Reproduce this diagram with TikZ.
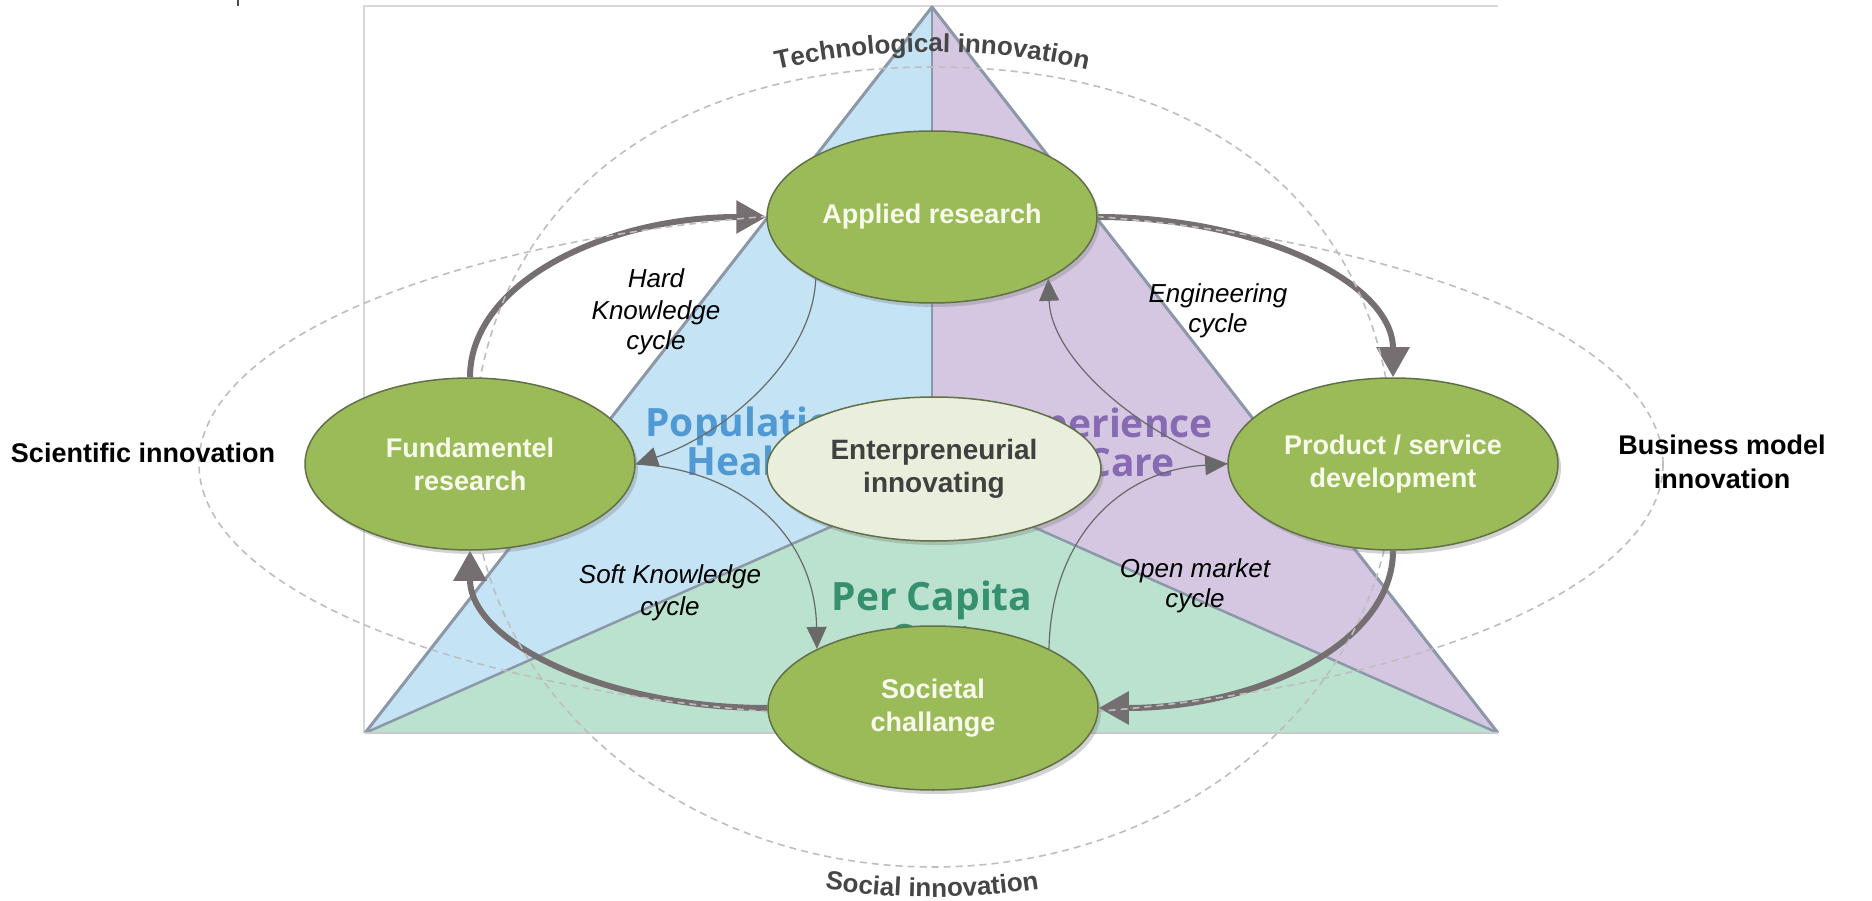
\documentclass[tikz,border=0pt]{standalone}
\usepackage{fontspec}
\setmainfont{Liberation Sans}
\newfontfamily\bgfont{Open Sans}
\usetikzlibrary{shapes.geometric,arrows.meta,shadows,decorations.text}
\definecolor{tblue}{RGB}{196,228,246}
\definecolor{tpurple}{RGB}{213,199,226}
\definecolor{tgreen}{RGB}{186,226,207}
\definecolor{tedge}{RGB}{140,152,168}
\definecolor{gfill}{RGB}{155,187,89}
\definecolor{gdraw}{RGB}{98,112,72}
\definecolor{efill}{RGB}{234,238,220}
\definecolor{arrcol}{RGB}{118,111,114}
\definecolor{thincol}{RGB}{105,105,105}
\definecolor{dashcol}{RGB}{190,190,190}
\definecolor{innov}{RGB}{70,70,70}
\definecolor{ntext}{RGB}{248,250,236}
\definecolor{etext}{RGB}{64,64,64}
\definecolor{popblue}{RGB}{60,140,205}
\definecolor{exppurple}{RGB}{122,92,170}
\definecolor{capgreen}{RGB}{30,130,95}
\definecolor{framecol}{RGB}{215,215,215}
\pgfdeclarelayer{tri}
\pgfdeclarelayer{arr}
\pgfdeclarelayer{dsh}
\pgfsetlayers{tri,arr,dsh,main}
\tikzset{
  gnode/.style={ellipse, draw=gdraw, line width=1.5pt, fill=gfill,
    minimum width=330pt, minimum height=172pt, inner sep=0pt, align=center,
    text=ntext, font={\fontsize{27}{33}\selectfont\bfseries},
    drop shadow={shadow xshift=3pt, shadow yshift=-4pt, opacity=0.35}},
  enode/.style={gnode, fill=efill, text=etext, minimum width=334pt, minimum height=144pt,
    font={\fontsize{28}{33}\selectfont\bfseries}},
  thickarr/.style={draw=arrcol, line width=6pt, -{Triangle[length=30pt,width=32pt]}},
  thinarr/.style={draw=thincol, line width=1.2pt, -{Triangle[length=22pt,width=20pt]}},
  dashline/.style={draw=dashcol, line width=1.6pt, dash pattern=on 7pt off 5pt},
  lab/.style={font={\fontsize{26}{32}\selectfont\itshape}, text=black, inner sep=0pt, anchor=base},
  side/.style={font={\fontsize{27}{33}\selectfont\bfseries}, text=black, inner sep=0pt, anchor=base},
  bgt/.style={font={\bgfont\bfseries\fontsize{39}{39}\selectfont}, inner sep=0pt, anchor=base, opacity=0.85},
}
\begin{document}
\begin{tikzpicture}[x=1pt,y=1pt]
\useasboundingbox (0,0) rectangle (1872,-901);

% ---- background triangle ----
\begin{pgfonlayer}{tri}
\coordinate (A) at (932,-7);
\coordinate (BL) at (365,-733);
\coordinate (BR) at (1498,-733);
\coordinate (C) at (932,-482);
\draw[framecol, line width=2pt] (364,-733) -- (364,-6) -- (1498,-6);
\draw[black!70, line width=1.5pt] (238,0) -- (238,-6);
\fill[tblue] (A) -- (C) -- (BL) -- cycle;
\fill[tpurple] (A) -- (BR) -- (C) -- cycle;
\fill[tgreen] (BL) -- (C) -- (BR) -- cycle;
\draw[tedge, line width=2.5pt] (A) -- (C);
\draw[tedge, line width=2.5pt] (BL) -- (C) -- (BR);
\draw[tedge, line width=3pt, line join=round] (BL) -- (A) -- (BR);
\draw[framecol!80!tedge, line width=2pt] (BL) -- (BR);
\node[bgt, text=popblue] (pop1) at (752,-436) {Population};
\node[bgt, text=popblue] (pop2) at (752,-475) {Health};
\node[bgt, text=exppurple] (exp1) at (1106,-437) {Experience};
\node[bgt, text=exppurple] (exp2) at (1106,-476) {of Care};
\node[bgt, text=capgreen] (cap1) at (932,-610) {Per Capita};
\node[bgt, text=capgreen] (cap2) at (932,-652) {Cost};
\end{pgfonlayer}

% ---- nodes ----
\node[gnode] (appl) at (932,-217) {Applied research};
\node[gnode] (fund) at (470,-464) {Fundamentel\\research};
\node[gnode] (prod) at (1393,-464) {Product / service\\development};
\node[gnode, minimum height=164pt] (soc) at (933,-708) {Societal\\challange};
\node[enode] (ent) at (934,-469) {Enterpreneurial\\innovating};

% ---- connectors ----
\begin{pgfonlayer}{arr}
\draw[thickarr] (fund.north) .. controls +(0,95) and +(-160,0) .. (appl.west);
\draw[thickarr] (appl.east) .. controls +(160,0) and +(0,95) .. (prod.north);
\draw[thickarr] (prod.south) .. controls +(0,-92) and +(160,0) .. (soc.east);
\draw[thickarr] (soc.west) .. controls +(-160,0) and +(0,-92) .. (fund.south);
\draw[thinarr] (appl.208) .. controls +(-3,-80) and +(90,30) .. (fund.east);
\draw[thinarr] (fund.east) .. controls +(110,-6) and +(-2,110) .. (soc.153);
\draw[thinarr] (soc.27) .. controls +(2,110) and +(-108,-6) .. (prod.west);
\draw[thinarr] (prod.west) .. controls +(-88,30) and +(3,-80) .. (appl.332);
\end{pgfonlayer}

% ---- dashed innovation areas ----
\begin{pgfonlayer}{dsh}
\draw[dashline] (472,-467) .. controls (472,-219) and (647,-67) .. (933,-67)
  .. controls (1219,-67) and (1394,-219) .. (1394,-467)
  .. controls (1394,-688) and (1188,-867) .. (933,-867)
  .. controls (678,-867) and (472,-688) .. cycle;
\draw[dashline] (931,-464) ellipse [x radius=732, y radius=254];
\end{pgfonlayer}

% ---- labels ----
\node[lab] (hk1) at (656,-288) {Hard};
\node[lab] (hk2) at (656,-320) {Knowledge};
\node[lab] (hk3) at (656,-350) {cycle};
\node[lab] (en1) at (1218,-303) {Engineering};
\node[lab] (en2) at (1218,-333) {cycle};
\node[lab] (sk1) at (670,-583) {Soft Knowledge};
\node[lab] (sk2) at (670,-615) {cycle};
\node[lab] (om1) at (1195,-577) {Open market};
\node[lab] (om2) at (1195,-607) {cycle};

\node[side] (sci) at (143,-462) {Scientific innovation};
\node[side] (bm1) at (1722,-454) {Business model};
\node[side] (bm2) at (1722,-488) {innovation};

\path[decorate, decoration={text along path, text align=center,
  text={|\fontsize{26}{26}\selectfont\bfseries\color{innov}|Technological innovation}}]
  (932,-752) ++(105:700) arc[start angle=105, end angle=75, radius=700];
\path[decorate, decoration={text along path, text align=center,
  text={|\fontsize{26}{26}\selectfont\bfseries\color{innov}|Social innovation}}]
  (932,-197) ++(255:700) arc[start angle=255, end angle=285, radius=700];
\end{tikzpicture}
\end{document}
